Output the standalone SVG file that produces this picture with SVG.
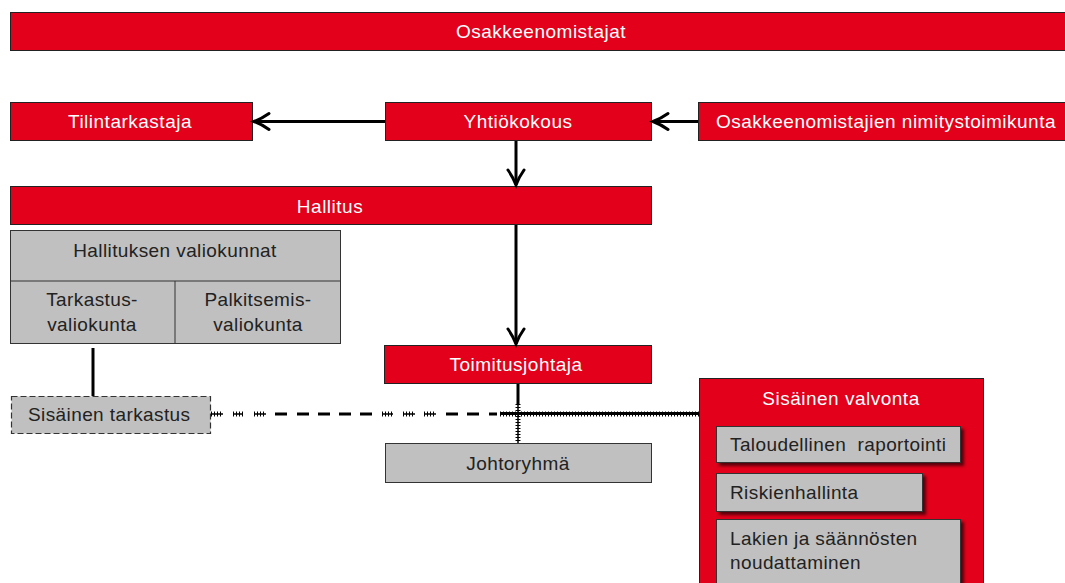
<svg xmlns="http://www.w3.org/2000/svg" width="1065" height="583" viewBox="0 0 1065 583">
<style>
.red{fill:#E2001A;stroke:#222;stroke-width:1}
.grey{fill:#C0C0C0;stroke:#333;stroke-width:1}
.tw{font-family:"Liberation Sans",Arial,sans-serif;font-size:19px;letter-spacing:0.5px;fill:#fff;text-anchor:middle}
.tb{font-family:"Liberation Sans",Arial,sans-serif;font-size:19px;letter-spacing:0.4px;fill:#222;text-anchor:middle}
.tl{font-family:"Liberation Sans",Arial,sans-serif;font-size:19px;letter-spacing:0.4px;fill:#222;white-space:pre}
.con{stroke:#000;stroke-width:3;fill:none}
.thin{stroke:#000;stroke-width:1.5;fill:none}
.tick{stroke:#000;stroke-width:5;stroke-dasharray:1 2;fill:none}
</style>
<defs>
<marker id="arr" markerUnits="userSpaceOnUse" markerWidth="22" markerHeight="22" refX="18" refY="10" orient="auto">
<path d="M3,2 Q10,7 18,10 Q10,13 3,18" stroke="#000" stroke-width="3" fill="none" stroke-linecap="round"/>
</marker>
<filter id="sh" x="-10%" y="-20%" width="130%" height="160%">
<feDropShadow dx="3" dy="3" stdDeviation="1.5" flood-color="#000" flood-opacity="0.6"/>
</filter>
</defs>

<g id="osakkeenomistajat">
<rect class="red" x="10.5" y="12.5" width="1060" height="38"/>
<text class="tw" x="541" y="38">Osakkeenomistajat</text>
</g>
<g id="tilintarkastaja">
<rect class="red" x="10.5" y="102.5" width="242" height="38"/>
<text class="tw" x="130" y="128">Tilintarkastaja</text>
</g>
<g id="yhtiokokous">
<rect class="red" x="385.5" y="102.5" width="266" height="38"/>
<text class="tw" x="518" y="128">Yhtiökokous</text>
</g>
<g id="nimitystoimikunta">
<rect class="red" x="698.5" y="102.5" width="370" height="38"/>
<text class="tw" x="886" y="128">Osakkeenomistajien nimitystoimikunta</text>
</g>
<g id="hallitus">
<rect class="red" x="10.5" y="186.5" width="641" height="38"/>
<text class="tw" x="330" y="213">Hallitus</text>
</g>
<g id="valiokunnat">
<rect class="grey" x="10.5" y="230.5" width="330" height="113"/>
<line x1="10.5" y1="281" x2="340.5" y2="281" stroke="#333" stroke-width="1"/>
<line x1="175" y1="281" x2="175" y2="343.5" stroke="#333" stroke-width="1"/>
<text class="tb" x="175" y="257">Hallituksen valiokunnat</text>
<text class="tb" x="92" y="306">Tarkastus-</text>
<text class="tb" x="92" y="331">valiokunta</text>
<text class="tb" x="258" y="306">Palkitsemis-</text>
<text class="tb" x="258" y="331">valiokunta</text>
</g>
<g id="sisainen-tarkastus">
<rect x="11.5" y="396.5" width="199" height="37" fill="#C0C0C0" stroke="#333" stroke-width="1.2" stroke-dasharray="6 3"/>
<text class="tl" x="28" y="421">Sisäinen tarkastus</text>
</g>
<g id="toimitusjohtaja">
<rect class="red" x="384.5" y="345.5" width="267" height="38"/>
<text class="tw" x="516" y="371">Toimitusjohtaja</text>
</g>
<g id="johtoryhma">
<rect class="grey" x="385.5" y="443.5" width="266" height="39"/>
<text class="tb" x="518" y="470">Johtoryhmä</text>
</g>
<g id="sisainen-valvonta">
<rect class="red" x="699.5" y="378.5" width="284" height="220"/>
<text class="tw" x="841" y="405">Sisäinen valvonta</text>
<g filter="url(#sh)">
<rect class="grey" x="716.5" y="426.5" width="244" height="36"/>
<rect class="grey" x="716.5" y="473.5" width="206" height="38"/>
<rect class="grey" x="716.5" y="519.5" width="244" height="80"/>
</g>
<text class="tl" x="730" y="451">Taloudellinen  raportointi</text>
<text class="tl" x="730" y="499">Riskienhallinta</text>
<text class="tl" x="730" y="545">Lakien ja säännösten</text>
<text class="tl" x="730" y="569">noudattaminen</text>
</g>

<g id="connectors">
<line class="con" x1="385" y1="121.5" x2="254" y2="121.5" marker-end="url(#arr)"/>
<line class="con" x1="698" y1="121.5" x2="653" y2="121.5" marker-end="url(#arr)"/>
<line class="con" x1="516" y1="141" x2="516" y2="185" marker-end="url(#arr)"/>
<line class="con" x1="516" y1="225" x2="516" y2="344" marker-end="url(#arr)"/>
<line class="con" x1="93" y1="348" x2="93" y2="396"/>
<line class="con" x1="518" y1="384" x2="518" y2="404"/>
<line class="thin" x1="518" y1="404" x2="518" y2="443"/>
<line class="tick" x1="518" y1="404" x2="518" y2="443"/>
<line class="con" x1="500" y1="413.5" x2="699" y2="413.5" stroke-width="2.5"/>
<line class="tick" x1="500" y1="414" x2="699" y2="414" stroke-width="4.5"/>
<path class="thin" d="M211,414H223M233,414H243M254,414H266M382,414H393M403,414H415M424,414H436"/>
<path class="tick" stroke-width="4" d="M211,414H223M233,414H243M254,414H266M382,414H393M403,414H415M424,414H436"/>
<path class="con" d="M275,414H287M297,414H309M318,414H330M339,414H351M360,414H372M446,414H458M467,414H479M489,414H497"/>
</g>
</svg>
